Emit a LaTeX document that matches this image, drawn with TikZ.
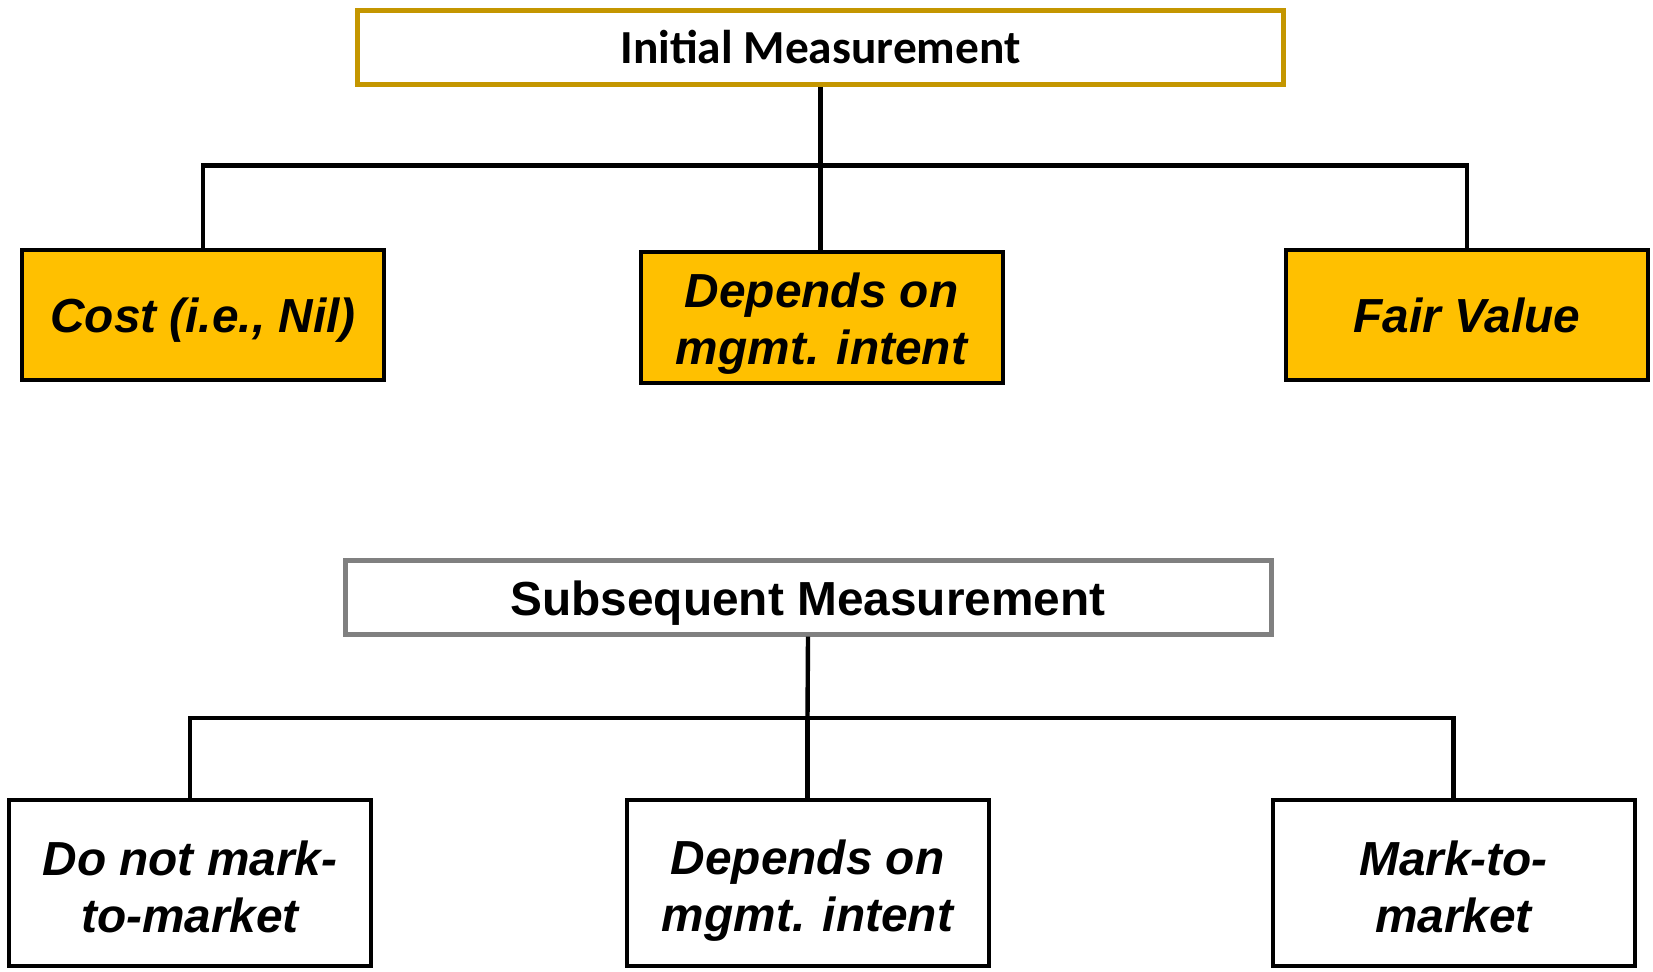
\documentclass[tikz,border=0pt]{standalone}
\usepackage{fontspec}
\setmainfont{Liberation Sans}
\newfontfamily\calfont{Carlito}
\definecolor{goldline}{HTML}{C49600}
\definecolor{goldfill}{HTML}{FFC000}
\definecolor{grayline}{HTML}{808080}
\newcommand\boxtext[2]{\raisebox{#1}[\height][\depth]{\begin{tabular}{@{}c@{}}#2\end{tabular}}}
\begin{document}
\begin{tikzpicture}[x=0.5pt,y=-0.5pt,
  titlebox/.style={draw, line width=2.5pt, fill=white, minimum width=463pt, minimum height=37pt, inner sep=0pt},
  leafbox/.style={draw=black, line width=2pt, minimum width=181pt, inner sep=0pt,
     font=\fontsize{23.9}{28.5}\selectfont\bfseries\itshape},
  goldbox/.style={leafbox, fill=goldfill, minimum height=65pt},
  whitebox/.style={leafbox, fill=white, minimum height=83pt},
  conn/.style={line width=2.2pt, black}]
\useasboundingbox (0,0) rectangle (1653,971);
% top tree
\node[titlebox, draw=goldline, font=\calfont\fontsize{23.7}{28}\selectfont\bfseries] (t1) at (820.5,47) {Initial Measurement};
\node[goldbox] (c1) at (203,315) {\boxtext{-2.95pt}{Cost (i.e., Nil)}};
\node[goldbox, minimum height=65.5pt] (c2) at (821.5,317.5) {\boxtext{-3.5pt}{Depends on\\mgmt. intent}};
\node[goldbox] (c3) at (1467,315) {\boxtext{-2.95pt}{Fair Value}};
\coordinate (b1) at (820.5,165.5);
\draw[conn] (t1.south) -- (b1);
\draw[conn] (c1.north) |- (b1) -| (c3.north);
\draw[conn] (b1) -- (b1 |- c2.north);
% bottom tree
\node[titlebox, draw=grayline, font=\fontsize{23.9}{28.5}\selectfont\bfseries] (t2) at (808,597) {\raisebox{-3.2pt}[\height][\depth]{Subsequent Measurement}};
\node[whitebox] (d1) at (190,883) {\boxtext{-4.8pt}{Do not mark-\\to-market}};
\node[whitebox] (d2) at (807.5,882.5) {\boxtext{-4.4pt}{Depends on\\mgmt. intent}};
\node[whitebox] (d3) at (1453.5,883) {\boxtext{-4.8pt}{Mark-to-\\market}};
\coordinate (b2) at (807.5,718);
\draw[conn] (t2.south) -- (b2);
\draw[conn] (d1.north) |- (b2) -| (d3.north);
\draw[conn] (b2) -- (d2.north);
\end{tikzpicture}
\end{document}
